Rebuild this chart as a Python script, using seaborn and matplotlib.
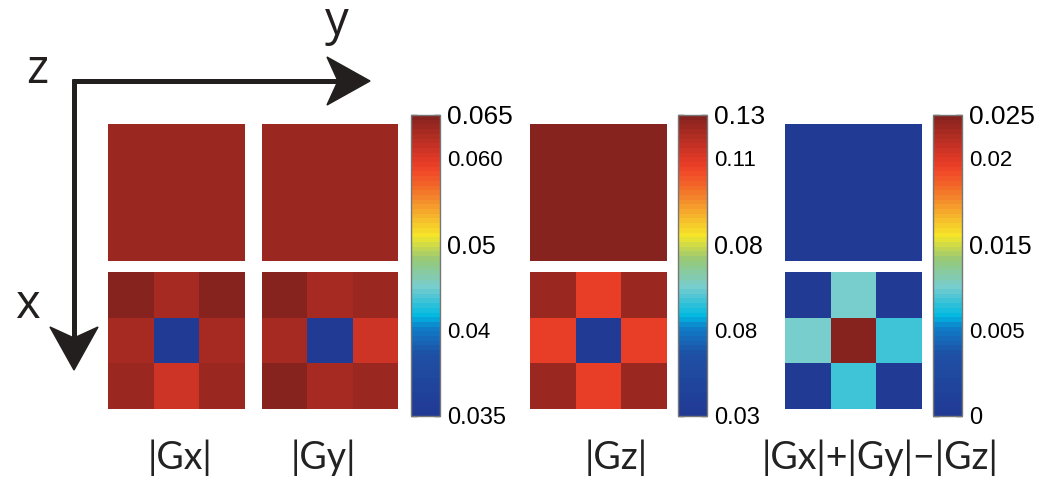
import numpy as np
import matplotlib
matplotlib.use('Agg')
import matplotlib.pyplot as plt
import seaborn as sns
from matplotlib.colors import LinearSegmentedColormap
from matplotlib.patches import Polygon

sns.set_theme(style='white')
plt.rcParams['font.family'] = ['Liberation Sans', 'DejaVu Sans']

# valores dos mapas
gx_top = [[0.0640]]
gx = [[0.0648, 0.0632, 0.0648],
      [0.0632, 0.0350, 0.0632],
      [0.0640, 0.0617, 0.0640]]
gy_top = [[0.0640]]
gy = [[0.0648, 0.0632, 0.0640],
      [0.0632, 0.0350, 0.0617],
      [0.0648, 0.0632, 0.0640]]
gz_top = [[0.1295]]
gz = [[0.1265, 0.1130, 0.1265],
      [0.1130, 0.0300, 0.1130],
      [0.1265, 0.1130, 0.1265]]
dif_top = [[0.0]]
dif = [[0.0, 0.01075, 0.0],
       [0.01075, 0.0250, 0.0097],
       [0.0, 0.0097, 0.0]]

titulos = ['|Gx|', '|Gy|', '|Gz|', '|Gx|+|Gy|\u2212|Gz|']
limites = [(0.035, 0.065), (0.03, 0.13), (0.0, 0.025)]
rotulos_cbar = [['0.035', '0.04', '0.05', '0.060', '0.065'],
                ['0.03', '0.08', '0.08', '0.11', '0.13'],
                ['0', '0.005', '0.015', '0.02', '0.025']]

# colormap tipo jet (MATLAB, impresso)
pontos = [(0.00, (33, 58, 148)), (0.20, (30, 80, 165)), (0.29, (15, 125, 200)),
          (0.33, (0, 185, 225)), (0.43, (122, 205, 205)), (0.52, (150, 200, 120)),
          (0.60, (245, 230, 40)), (0.70, (245, 155, 45)), (0.78, (242, 95, 40)),
          (0.83, (238, 65, 40)), (0.88, (212, 53, 38)), (1.00, (135, 35, 30))]
cmap = LinearSegmentedColormap.from_list(
    'jet_matlab', [(p, tuple(c / 255 for c in cor)) for p, cor in pontos], N=64)

W, H = 1044, 482
fig = plt.figure(figsize=(W / 100, H / 100), dpi=100)


def eixo(x0, y0, x1, y1):
    return fig.add_axes([x0 / W, 1 - y1 / H, (x1 - x0) / W, (y1 - y0) / H])


# eixo de fundo para setas e letras
bg = fig.add_axes([0, 0, 1, 1])
bg.set_xlim(0, W)
bg.set_ylim(H, 0)
bg.axis('off')
preto = (0.14, 0.12, 0.12)
bg.plot([72, 340], [81, 81], color=preto, lw=3.6, solid_capstyle='butt')
bg.plot([74, 74], [79, 340], color=preto, lw=3.6, solid_capstyle='butt')
bg.add_patch(Polygon([(370, 81), (327, 57), (338, 81), (327, 105)], closed=True, color=preto))
bg.add_patch(Polygon([(74, 370), (50, 327), (74, 338), (98, 327)], closed=True, color=preto))
bg.text(37, 70, 'z', fontsize=34, family='Open Sans', ha='center', va='center', color=preto)
bg.text(337, 22, 'y', fontsize=34, family='Open Sans', ha='center', va='center', color=preto)
bg.text(27, 305, 'x', fontsize=34, family='Open Sans', ha='center', va='center', color=preto)

paineis = [(gx_top, gx, 108, 245, 0), (gy_top, gy, 262, 398, 0),
           (gz_top, gz, 530, 667, 1), (dif_top, dif, 785, 922, 2)]
cbar_x = {0: (411, 440), 1: (678, 707), 2: (933, 962)}

for topo, baixo, x0, x1, g in paineis:
    vmin, vmax = limites[g]
    ax_t = eixo(x0, 124, x1, 261)
    sns.heatmap(np.array(topo), ax=ax_t, cmap=cmap, vmin=vmin, vmax=vmax,
                cbar=False, xticklabels=False, yticklabels=False)
    ax_b = eixo(x0, 272, x1, 409)
    usa_cbar = x0 != 108
    if usa_cbar:
        cx0, cx1 = cbar_x[g]
        cax = eixo(cx0, 115, cx1, 416)
        sns.heatmap(np.array(baixo), ax=ax_b, cmap=cmap, vmin=vmin, vmax=vmax,
                    cbar=True, cbar_ax=cax, xticklabels=False, yticklabels=False)
        cb = ax_b.collections[0].colorbar
        ticks = np.linspace(vmin, vmax, 8)
        cb.set_ticks(ticks)
        r = rotulos_cbar[g]
        cb.set_ticklabels([r[0], '', r[1], '', r[2], '', r[3], r[4]])
        cax.tick_params(axis='y', direction='in', left=True, right=True,
                        length=4, width=1, color='#444444', pad=5, labelcolor='black')
        tamanhos = [17, 0, 16, 0, 18, 0, 16, 19]
        for lab, s in zip(cax.get_yticklabels(), tamanhos):
            if s:
                lab.set_fontsize(s)
        cb.outline.set_edgecolor('#777777')
        cb.outline.set_linewidth(1)
        cb.outline.set_visible(True)
    else:
        sns.heatmap(np.array(baixo), ax=ax_b, cmap=cmap, vmin=vmin, vmax=vmax,
                    cbar=False, xticklabels=False, yticklabels=False)

# rótulos inferiores
for txt, xc in zip(titulos, [180, 323, 616, 880]):
    bg.text(xc, 458, txt, fontsize=27, family='Lato', ha='center', va='center', color='#222222')

fig.savefig('out.png', dpi=100)
